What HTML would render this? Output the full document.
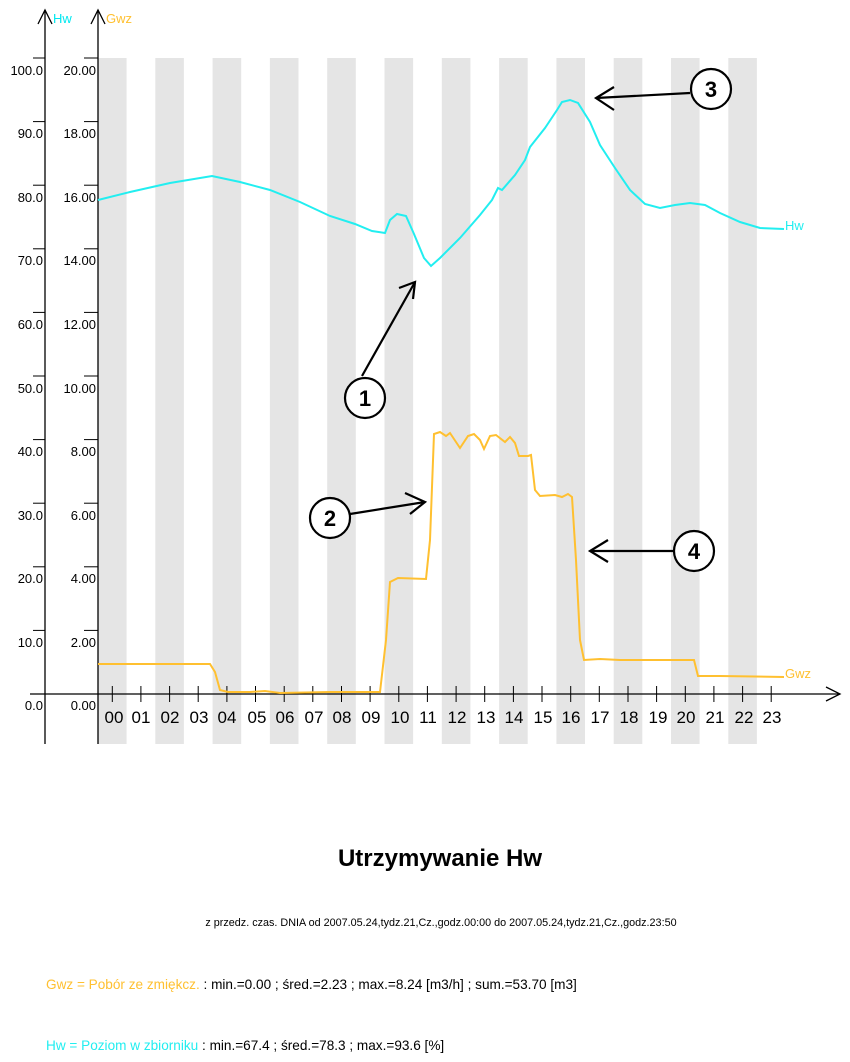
<!DOCTYPE html>
<html><head><meta charset="utf-8"><style>
html,body{margin:0;padding:0;background:#fff;}
svg{display:block;font-family:"Liberation Sans",sans-serif;}
</style></head><body>
<svg width="850" height="1062" viewBox="0 0 850 1062" xmlns="http://www.w3.org/2000/svg">
<g fill="#e5e5e5">
<rect x="98" y="58" width="28.6" height="686"/>
<rect x="155.3" y="58" width="28.6" height="686"/>
<rect x="212.6" y="58" width="28.6" height="686"/>
<rect x="269.9" y="58" width="28.6" height="686"/>
<rect x="327.2" y="58" width="28.6" height="686"/>
<rect x="384.5" y="58" width="28.6" height="686"/>
<rect x="441.8" y="58" width="28.6" height="686"/>
<rect x="499.1" y="58" width="28.6" height="686"/>
<rect x="556.4" y="58" width="28.6" height="686"/>
<rect x="613.7" y="58" width="28.6" height="686"/>
<rect x="671" y="58" width="28.6" height="686"/>
<rect x="728.3" y="58" width="28.6" height="686"/>
</g>
<g stroke="#000" stroke-width="1.3" fill="none">
<line x1="45" y1="10" x2="45" y2="744"/>
<polyline points="38,24 45,10 52,24"/>
<line x1="98" y1="10" x2="98" y2="744"/>
<polyline points="91,24 98,10 105,24"/>
<line x1="30" y1="694" x2="840" y2="694"/>
<polyline points="826,687 840,694 826,701"/>
</g>
<g stroke="#000" stroke-width="1">
<line x1="33" y1="58" x2="45" y2="58"/><line x1="84" y1="58" x2="98" y2="58"/>
<line x1="33" y1="121.6" x2="45" y2="121.6"/><line x1="84" y1="121.6" x2="98" y2="121.6"/>
<line x1="33" y1="185.2" x2="45" y2="185.2"/><line x1="84" y1="185.2" x2="98" y2="185.2"/>
<line x1="33" y1="248.8" x2="45" y2="248.8"/><line x1="84" y1="248.8" x2="98" y2="248.8"/>
<line x1="33" y1="312.4" x2="45" y2="312.4"/><line x1="84" y1="312.4" x2="98" y2="312.4"/>
<line x1="33" y1="376" x2="45" y2="376"/><line x1="84" y1="376" x2="98" y2="376"/>
<line x1="33" y1="439.6" x2="45" y2="439.6"/><line x1="84" y1="439.6" x2="98" y2="439.6"/>
<line x1="33" y1="503.2" x2="45" y2="503.2"/><line x1="84" y1="503.2" x2="98" y2="503.2"/>
<line x1="33" y1="566.8" x2="45" y2="566.8"/><line x1="84" y1="566.8" x2="98" y2="566.8"/>
<line x1="33" y1="630.4" x2="45" y2="630.4"/><line x1="84" y1="630.4" x2="98" y2="630.4"/>
</g>
<g font-size="13" text-anchor="end" fill="#000">
<text x="43" y="75">100.0</text><text x="96" y="75">20.00</text>
<text x="43" y="138">90.0</text><text x="96" y="138">18.00</text>
<text x="43" y="202">80.0</text><text x="96" y="202">16.00</text>
<text x="43" y="265">70.0</text><text x="96" y="265">14.00</text>
<text x="43" y="329">60.0</text><text x="96" y="329">12.00</text>
<text x="43" y="393">50.0</text><text x="96" y="393">10.00</text>
<text x="43" y="456">40.0</text><text x="96" y="456">8.00</text>
<text x="43" y="520">30.0</text><text x="96" y="520">6.00</text>
<text x="43" y="583">20.0</text><text x="96" y="583">4.00</text>
<text x="43" y="647">10.0</text><text x="96" y="647">2.00</text>
<text x="43" y="710">0.0</text><text x="96" y="710">0.00</text>
</g>
<text x="53" y="23" font-size="13" fill="#00e8f0">Hw</text>
<text x="106" y="23" font-size="13" fill="#ffc030">Gwz</text>
<g stroke="#000" stroke-width="1">
<line x1="112.3" y1="686" x2="112.3" y2="702"/><line x1="140.9" y1="686" x2="140.9" y2="702"/><line x1="169.6" y1="686" x2="169.6" y2="702"/><line x1="198.2" y1="686" x2="198.2" y2="702"/><line x1="226.9" y1="686" x2="226.9" y2="702"/><line x1="255.5" y1="686" x2="255.5" y2="702"/><line x1="284.2" y1="686" x2="284.2" y2="702"/><line x1="312.8" y1="686" x2="312.8" y2="702"/><line x1="341.5" y1="686" x2="341.5" y2="702"/><line x1="370.1" y1="686" x2="370.1" y2="702"/><line x1="398.8" y1="686" x2="398.8" y2="702"/><line x1="427.4" y1="686" x2="427.4" y2="702"/><line x1="456.1" y1="686" x2="456.1" y2="702"/><line x1="484.7" y1="686" x2="484.7" y2="702"/><line x1="513.4" y1="686" x2="513.4" y2="702"/><line x1="542" y1="686" x2="542" y2="702"/><line x1="570.7" y1="686" x2="570.7" y2="702"/><line x1="599.3" y1="686" x2="599.3" y2="702"/><line x1="628" y1="686" x2="628" y2="702"/><line x1="656.6" y1="686" x2="656.6" y2="702"/><line x1="685.3" y1="686" x2="685.3" y2="702"/><line x1="713.9" y1="686" x2="713.9" y2="702"/><line x1="742.6" y1="686" x2="742.6" y2="702"/><line x1="771.2" y1="686" x2="771.2" y2="702"/>
</g>
<g font-size="17" text-anchor="middle" fill="#000">
<text x="114" y="723">00</text><text x="141" y="723">01</text><text x="170" y="723">02</text><text x="199" y="723">03</text><text x="227" y="723">04</text><text x="257" y="723">05</text><text x="285" y="723">06</text><text x="314" y="723">07</text><text x="342" y="723">08</text><text x="371" y="723">09</text><text x="400" y="723">10</text><text x="428" y="723">11</text><text x="457" y="723">12</text><text x="486" y="723">13</text><text x="514" y="723">14</text><text x="543" y="723">15</text><text x="571" y="723">16</text><text x="600" y="723">17</text><text x="629" y="723">18</text><text x="658" y="723">19</text><text x="686" y="723">20</text><text x="715" y="723">21</text><text x="744" y="723">22</text><text x="772" y="723">23</text>
</g>
<polyline fill="none" stroke="#22eef0" stroke-width="2" points="98,200 130,192 170,183 212,176 240,182 270,190 300,202 330,216 355,224 372,231 385,233 390,220 397,214 406,216 414,234 424,258 431,266 440,258 460,238 480,215 492,200 498,188 502,190 515,175 525,160 530,147 545,128 557,110 562,102 570,100 578,103 590,122 600,145 615,168 630,190 645,204 660,208 675,205 690,203 705,205 720,213 740,222 760,228 784,229"/>
<text x="785" y="230" font-size="13" fill="#22eef0">Hw</text>
<polyline fill="none" stroke="#ffc030" stroke-width="2" points="98,664 210,664 215,672 220,690 228,692 250,692 265,691 280,693 330,692 380,692 386,640 390,582 398,578 426,579 430,540 434,434 440,432 446,436 450,433 456,442 460,448 468,436 474,434 480,440 484,449 490,436 496,435 505,442 510,437 515,443 519,456 528,456 531,455 535,490 540,496 555,495 562,497 568,494 572,497 576,560 580,640 584,660 600,659 620,660 694,660 698,676 720,676 784,677"/>
<text x="785" y="678" font-size="13" fill="#ffc030">Gwz</text>
<g stroke="#000" stroke-width="2.2" fill="none">
<line x1="362" y1="376" x2="415" y2="282"/><polyline points="399,288 415,282 413,299"/>
<line x1="350" y1="514" x2="425" y2="502"/><polyline points="405,493 425,502 410,514"/>
<line x1="690" y1="93" x2="596" y2="98"/><polyline points="614,87 596,98 614,110"/>
<line x1="673" y1="551" x2="590" y2="551"/><polyline points="608,540 590,551 608,562"/>
<circle cx="365" cy="398" r="20" fill="#fff"/>
<circle cx="330" cy="518" r="20" fill="#fff"/>
<circle cx="711" cy="89" r="20" fill="#fff"/>
<circle cx="694" cy="551" r="20" fill="#fff"/>
</g>
<g font-size="22" font-weight="bold" text-anchor="middle" fill="#000">
<text x="365" y="406">1</text><text x="330" y="526">2</text><text x="711" y="97">3</text><text x="694" y="559">4</text>
</g>
<text x="440" y="866" font-size="24" font-weight="bold" text-anchor="middle">Utrzymywanie Hw</text>
<text x="441" y="926" font-size="10.8" text-anchor="middle">z przedz. czas. DNIA od 2007.05.24,tydz.21,Cz.,godz.00:00 do 2007.05.24,tydz.21,Cz.,godz.23:50</text>
<text x="46" y="989" font-size="13.6"><tspan fill="#ffc030">Gwz = Pobór ze zmiękcz.</tspan> : min.=0.00 ; śred.=2.23 ; max.=8.24 [m3/h] ; sum.=53.70 [m3]</text>
<text x="46" y="1050" font-size="13.6"><tspan fill="#22eef0">Hw = Poziom w zbiorniku</tspan> : min.=67.4 ; śred.=78.3 ; max.=93.6 [%]</text>
</svg>
</body></html>
